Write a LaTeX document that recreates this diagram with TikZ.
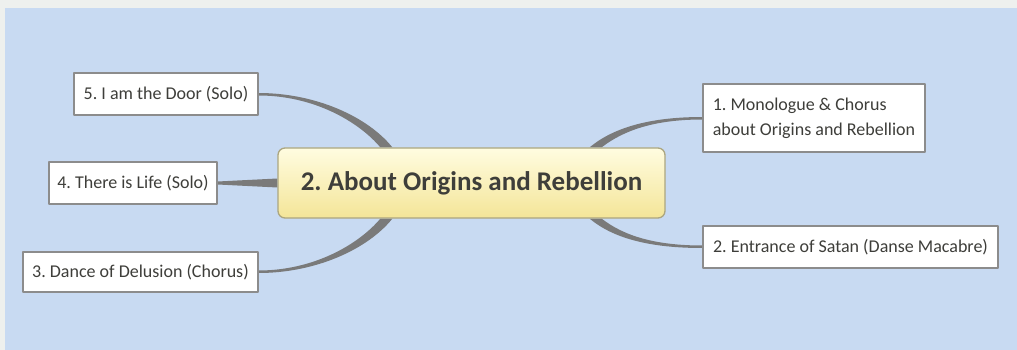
\documentclass[tikz,border=0pt]{standalone}
\usepackage{fontspec}
\setmainfont{Carlito}
\usetikzlibrary{calc,backgrounds}
\definecolor{nenxanh}{RGB}{200,218,242}
\definecolor{nenxam}{RGB}{238,240,238}
\definecolor{vangtren}{RGB}{255,252,224}
\definecolor{vangduoi}{RGB}{244,229,152}
\definecolor{vienvang}{RGB}{172,166,128}
\definecolor{chuxam}{RGB}{62,62,58}
\definecolor{nhanhxam}{RGB}{122,122,122}
\frenchspacing
\begin{document}
\begin{tikzpicture}[x=1pt,y=-1pt,line join=round,line cap=round,
	goc/.style={draw=vienvang,line width=1.3pt,rounded corners=7pt,top color=vangtren,bottom color=vangduoi,
		text=chuxam,font=\fontsize{27}{30}\selectfont\bfseries,inner sep=2pt},
	la/.style={draw=black!45,line width=1.1pt,fill=white,text=chuxam,
		font=\fontsize{18}{25}\selectfont,inner sep=2pt},
	nhanh/.style={fill=nhanhxam}]
	\useasboundingbox (0,0) rectangle (1017,350);
	% === Các nút ===
	\node[goc,minimum width=387,minimum height=70] (c) at (471.5,183) {2. About Origins and Rebellion};
	\node[la,minimum width=184,minimum height=42] (n5) at (166,94) {5. I am the Door (Solo)};
	\node[la,minimum width=168,minimum height=42] (n4) at (133,183) {4. There is Life (Solo)};
	\node[la,minimum width=235,minimum height=40] (n3) at (140.5,272) {3. Dance of Delusion (Chorus)};
	\node[la,minimum width=222,minimum height=68,align=left] (n1) at (814,118) {1. Monologue \& Chorus\\about Origins and Rebellion};
	\node[la,minimum width=295,minimum height=42] (n2) at (850.5,247) {2. Entrance of Satan (Danse Macabre)};
	% === Nền và các nhánh ===
	\begin{scope}[on background layer]
		\fill[nenxam] (0,0) rectangle (1017,350);
		\fill[nenxanh] (5,8) rectangle (1017,350);
		\fill[nhanh] ($(n5.east)+(0,-1)$) .. controls +(58,0) and +(-24,-30) .. ($(c.north west)+(115,0)$)
			-- ($(c.north west)+(103,0)$) .. controls +(-22,-26) and +(55,0) .. ($(n5.east)+(0,1.5)$) -- cycle;
		\fill[nhanh] ($(n3.east)+(0,1)$) .. controls +(58,0) and +(-24,30) .. ($(c.south west)+(115,0)$)
			-- ($(c.south west)+(103,0)$) .. controls +(-22,26) and +(55,0) .. ($(n3.east)+(0,-1.5)$) -- cycle;
		\fill[nhanh] ($(n4.east)+(0,-1.5)$) -- ($(c.west)+(0,-4.5)$) -- ($(c.west)+(0,4.5)$) -- ($(n4.east)+(0,1.5)$) -- cycle;
		\fill[nhanh] ($(n1.west)+(0,-1)$) .. controls +(-52,0) and +(24,-20) .. ($(c.north east)+(-76,0)$)
			-- ($(c.north east)+(-64,0)$) .. controls +(22,-17) and +(-48,0) .. ($(n1.west)+(0,1.5)$) -- cycle;
		\fill[nhanh] ($(n2.west)+(0,1)$) .. controls +(-52,0) and +(24,20) .. ($(c.south east)+(-76,0)$)
			-- ($(c.south east)+(-64,0)$) .. controls +(22,17) and +(-48,0) .. ($(n2.west)+(0,-1.5)$) -- cycle;
	\end{scope}
\end{tikzpicture}
\end{document}
